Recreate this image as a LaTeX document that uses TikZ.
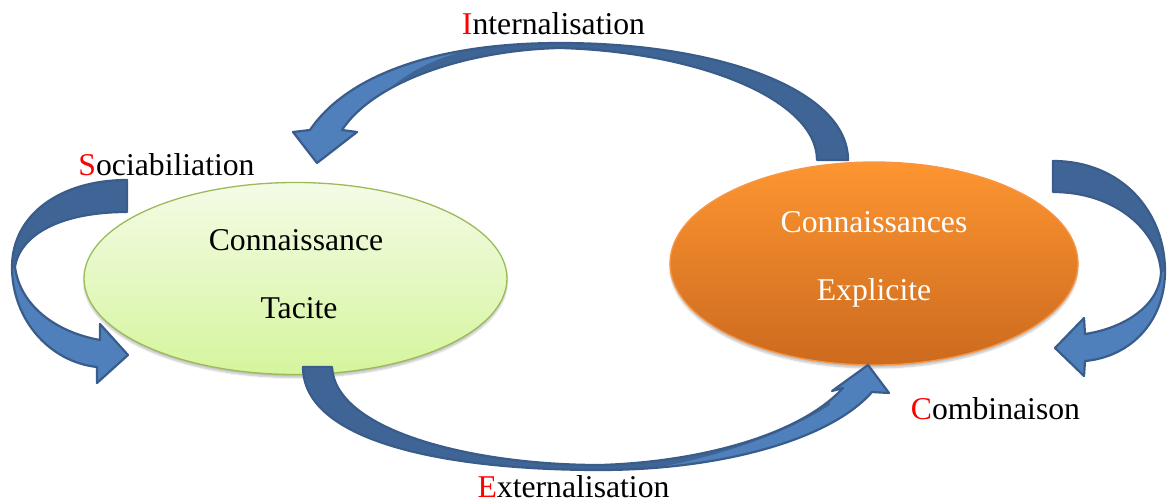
\documentclass[tikz,border=0pt]{standalone}
\usepackage{fontspec}
\setmainfont{Liberation Serif}
\usetikzlibrary{shapes.geometric,shadows.blur}
\definecolor{arrowline}{HTML}{395C8A}
\definecolor{arrowdark}{HTML}{3F6596}
\definecolor{arrowlight}{HTML}{4F80BC}
\definecolor{greentop}{HTML}{F4FBE6}
\definecolor{greenbot}{HTML}{D5F59D}
\definecolor{greenline}{HTML}{9BBB59}
\definecolor{orangetop}{HTML}{FD9531}
\definecolor{orangebot}{HTML}{CC6A1E}
\definecolor{orangeline}{HTML}{F79646}
\tikzset{
  lbl/.style={font=\fontsize{31.7}{38}\selectfont, anchor=base, inner sep=0pt},
  blob/.style={ellipse, inner sep=0pt, line width=1.3,
    blur shadow={shadow xshift=0pt, shadow yshift=-3pt, shadow blur steps=6, shadow opacity=25}},
  tacitbox/.style={blob, draw=greenline, top color=greentop, bottom color=greenbot,
    minimum width=423, minimum height=192},
  explbox/.style={blob, draw=orangeline, top color=orangetop, bottom color=orangebot,
    minimum width=408, minimum height=203},
  arrowedge/.style={draw=arrowline, line width=2.2, line join=round},
}
\begin{document}
\begin{tikzpicture}[x=1pt,y=-1pt]
\useasboundingbox (0,0) rectangle (1169,503);

% ellipses
\node[tacitbox] (tacit) at (295.5,278.5) {};
\node[explbox] (expl) at (874,263.5) {};

\node[lbl] (t1) at (296,250) {Connaissance};
\node[lbl] (t2) at (299,318) {Tacite};
\node[lbl, text=white] (e1) at (874,232) {Connaissances};
\node[lbl, text=white] (e2) at (874,300) {Explicite};

% ---------- Internalisation arrow ----------
\path[save path=\pInt]
  (848,160) .. controls (848,90) and (720,43) .. (560,43)
  .. controls (430,43) and (345,78) .. (310,130)
  -- (293,132) -- (317,163) -- (357,132) -- (342,130)
  .. controls (375,80) and (470,50) .. (560,48)
  .. controls (700,52) and (817,100) .. (817,160) -- cycle;
\fill[arrowdark, use path=\pInt];
\begin{scope}
  \clip[use path=\pInt];
  \fill[arrowlight] (250,0) -- (500,0) -- (500,44) .. controls (440,52) and (395,75) .. (370,110)
     -- (370,200) -- (250,200) -- cycle;
\end{scope}
\path[arrowedge, use path=\pInt];

% ---------- Externalisation arrow ----------
\path[save path=\pExt]
  (303,367) .. controls (303,440) and (440,470) .. (600,470)
  .. controls (720,470) and (830,440) .. (872,392)
  -- (889,393) -- (868,365) -- (832,391) -- (843,388)
  .. controls (800,435) and (700,462) .. (600,465)
  .. controls (470,465) and (335,430) .. (332,367) -- cycle;
\fill[arrowdark, use path=\pExt];
\begin{scope}
  \clip[use path=\pExt];
  \fill[arrowlight] (640,503) -- (640,470) .. controls (700,462) and (780,438) .. (830,405)
     -- (830,340) -- (950,340) -- (950,503) -- cycle;
\end{scope}
\path[arrowedge, use path=\pExt];

% ---------- Sociabiliation arrow ----------
\path[save path=\pSoc]
  (127,180) .. controls (60,180) and (12,215) .. (12,267)
  .. controls (12,320) and (50,362) .. (97,367)
  -- (97,383) -- (128,355) -- (100,324) -- (100,340)
  .. controls (55,332) and (20,305) .. (15,267)
  .. controls (20,235) and (60,212) .. (127,212) -- cycle;
\fill[arrowdark, use path=\pSoc];
\begin{scope}
  \clip[use path=\pSoc];
  \fill[arrowlight] (0,268) rectangle (140,400);
\end{scope}
\path[arrowedge, use path=\pSoc];

% ---------- Combinaison arrow ----------
\path[save path=\pCom]
  (1053,161) .. controls (1122,161) and (1165,212) .. (1165,271)
  .. controls (1165,322) and (1130,357) .. (1085,361)
  -- (1084,376) -- (1055,348) -- (1084,318) -- (1085,334)
  .. controls (1125,328) and (1160,305) .. (1161,272)
  .. controls (1158,230) and (1115,192) .. (1053,192) -- cycle;
\fill[arrowdark, use path=\pCom];
\begin{scope}
  \clip[use path=\pCom];
  \fill[arrowlight] (1040,272) rectangle (1169,400);
\end{scope}
\path[arrowedge, use path=\pCom];

% labels
\node[lbl] (lint) at (553.5,35) {\textcolor{red}{I}nternalisation};
\node[lbl] (lsoc) at (166.5,175) {\textcolor{red}{S}ociabiliation};
\node[lbl] (lext) at (573.5,497) {\textcolor{red}{E}xternalisation};
\node[lbl] (lcom) at (995.5,419) {\textcolor{red}{C}ombinaison};
\end{tikzpicture}
\end{document}
